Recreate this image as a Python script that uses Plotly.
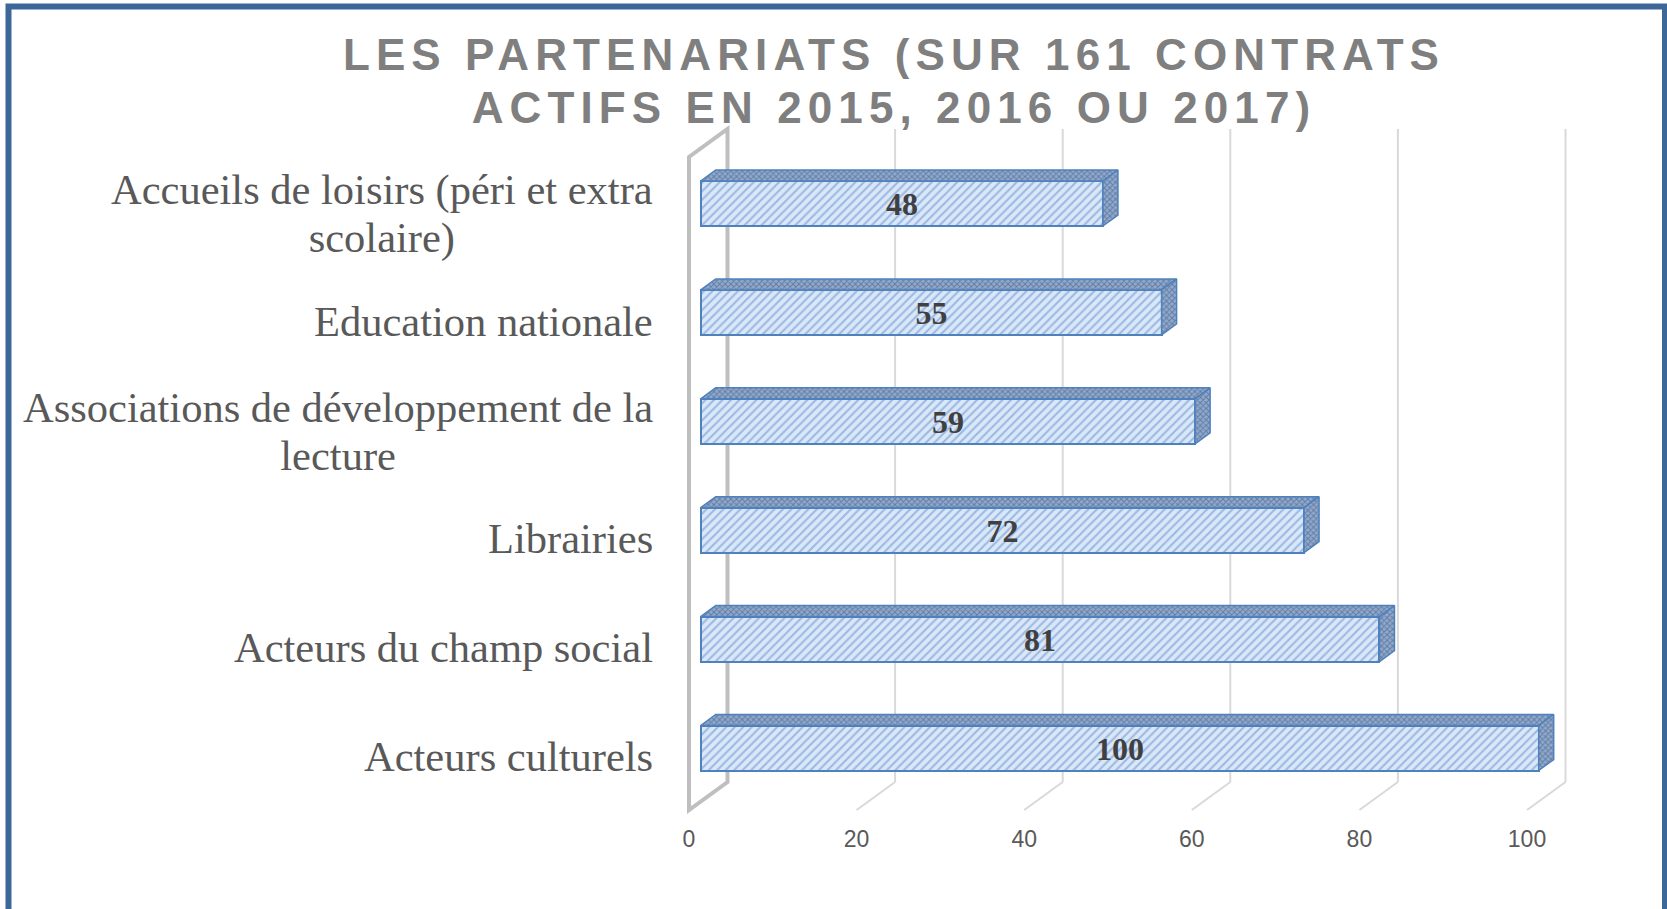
import plotly.graph_objects as go

# ---------------- data ----------------
categories = [
    "Acteurs culturels",
    "Acteurs du champ social",
    "Librairies",
    "Associations de développement de la<br>lecture",
    "Education nationale",
    "Accueils de loisirs (péri et extra<br>scolaire)",
]
values = [100, 81, 72, 59, 55, 48]
x_ticks = [0, 20, 40, 60, 80, 100]
title_text = "LES PARTENARIATS (SUR 161 CONTRATS<br>ACTIFS EN 2015, 2016 OU 2017)"

# ---------------- geometry (pixel layout -> data units) ----------------
W, H = 1667, 909
ML, MR, MT, MB = 680, 67, 120, 94
PX_X = 8.38       # px per value unit
X0_PX = 689.0     # px of value 0 on front floor edge
PX_Y = 108.9      # px per category
Y0_PX = 748.0     # px of category 0 bar-front centre

plot_w = W - ML - MR
plot_h = H - MT - MB
x_rng = [(ML - X0_PX) / PX_X, (W - MR - X0_PX) / PX_X]
y_rng = [(Y0_PX - (H - MB)) / PX_Y, (Y0_PX - MT) / PX_Y]

def yu(px):
    return (Y0_PX - px) / PX_Y

FDX = 38.5 / PX_X          # floor depth (x)
FFY = yu(810)              # floor front
FBY = yu(782)              # floor back
WTOP = yu(129)             # back wall top
WFT = yu(157)              # front wall top
B0 = (700.7 - X0_PX) / PX_X
BH = 22.5 / PX_Y           # half bar height
BDX = 15 / PX_X            # bar depth x
BDY = 11 / PX_Y            # bar depth y

idx = list(range(len(categories)))

fig = go.Figure()

# front faces (bars)
fig.add_trace(go.Bar(
    x=values, y=idx, base=[B0] * len(values), orientation="h",
    width=2 * BH,
    marker=dict(color="#d6e4f6",
                line=dict(color="#4f81bd", width=2),
                pattern=dict(shape="/", fgcolor="#5a8ad0", bgcolor="#dae7f7",
                             size=6, solidity=0.35)),
    text=[str(v) for v in values], textposition="inside",
    insidetextanchor="middle", constraintext="none", textangle=0,
    insidetextfont=dict(family="Liberation Serif", size=32, color="#404040",
                        weight="bold"),
    hoverinfo="skip", showlegend=False,
))

# top and side faces
tx, ty, sx, sy = [], [], [], []
for i, v in zip(idx, values):
    tx += [B0, B0 + v, B0 + v + BDX, B0 + BDX, B0, None]
    ty += [i + BH, i + BH, i + BH + BDY, i + BH + BDY, i + BH, None]
    sx += [B0 + v, B0 + v + BDX, B0 + v + BDX, B0 + v, B0 + v, None]
    sy += [i - BH, i - BH + BDY, i + BH + BDY, i + BH, i - BH, None]

for xs, ys in ((tx, ty), (sx, sy)):
    fig.add_trace(go.Scatter(
        x=xs, y=ys, mode="lines", fill="toself", connectgaps=False,
        line=dict(color="#4f81bd", width=1.5),
        fillcolor="#7d93b5",
        fillpattern=dict(shape="x", fgcolor="#3f4f68", bgcolor="#8faad2",
                         size=4, solidity=0.45),
        hoverinfo="skip", showlegend=False,
    ))

# walls / gridlines
shapes = []
for t in x_ticks:
    if t == 0:
        continue
    shapes.append(dict(type="line", xref="x", yref="y", layer="below",
                       x0=t + FDX, y0=FBY, x1=t + FDX, y1=WTOP,
                       line=dict(color="#d9d9d9", width=2)))
    shapes.append(dict(type="line", xref="x", yref="y", layer="below",
                       x0=t + FDX, y0=FBY, x1=t, y1=FFY,
                       line=dict(color="#d9d9d9", width=2)))
t0 = x_ticks[0]
shapes.append(dict(type="path", xref="x", yref="y", layer="below",
                   path=(f"M {t0},{FFY} L {t0},{WFT} L {t0 + FDX},{WTOP} "
                         f"L {t0 + FDX},{FBY} Z"),
                   line=dict(color="#bfbfbf", width=4)))

# outer frame
def px2paper_x(px):
    return (px - ML) / plot_w

def px2paper_y(py):
    return (H - MB - py) / plot_h

shapes.append(dict(type="rect", xref="paper", yref="paper",
                   x0=px2paper_x(8.5), x1=px2paper_x(1665),
                   y0=px2paper_y(925), y1=px2paper_y(6.5),
                   line=dict(color="#3d6699", width=6)))

# category labels
annotations = []
for i, c in zip(idx, categories):
    two_lines = "<br>" in c
    annotations.append(dict(
        text=c, xref="paper", yref="y", x=px2paper_x(655),
        y=i - (0.13 if two_lines else 0.08),
        xanchor="right", yanchor="middle", align="center", showarrow=False,
        font=dict(family="Liberation Serif", size=42.5, color="#595959"),
    ))

fig.update_layout(
    width=W, height=H,
    margin=dict(l=ML, r=MR, t=MT, b=MB, pad=0),
    paper_bgcolor="white", plot_bgcolor="white",
    title=dict(text=title_text, xref="container", yref="container",
               x=894 / W, xanchor="center", y=1 - 70 / H, yanchor="top",
               font=dict(family="Liberation Sans", size=44, color="#7f7f7f",
                         weight="bold")),
    xaxis=dict(range=x_rng, tickvals=x_ticks, showgrid=False, zeroline=False,
               showline=False, ticks="", ticklabelstandoff=8,
               tickfont=dict(family="Liberation Sans", size=23, color="#595959")),
    yaxis=dict(range=y_rng, showgrid=False, zeroline=False, showline=False,
               showticklabels=False, ticks=""),
    shapes=shapes, annotations=annotations,
    bargap=0,
)

post = """
document.body.style.margin='0';
document.body.style.overflow='hidden';
var gd=document.getElementById('{plot_id}');
function fixText(){
  var t=gd.querySelector('.gtitle');
  if(t){
    t.style.letterSpacing='6.1px';
    var ls=t.querySelectorAll('tspan.line');
    for(var k=1;k<ls.length;k++){ls[k].setAttribute('dy',(k*1.2)+'em');}
  }
  var an=gd.querySelectorAll('.annotation-text');
  for(var a=0;a<an.length;a++){
    var tl=an[a].querySelectorAll('tspan.line');
    for(var k=1;k<tl.length;k++){tl[k].setAttribute('dy',(k*1.13)+'em');}
  }
}
fixText();
gd.on('plotly_afterplot', fixText);
"""

fig.write_html("out.html", post_script=post, config={"displayModeBar": False})
